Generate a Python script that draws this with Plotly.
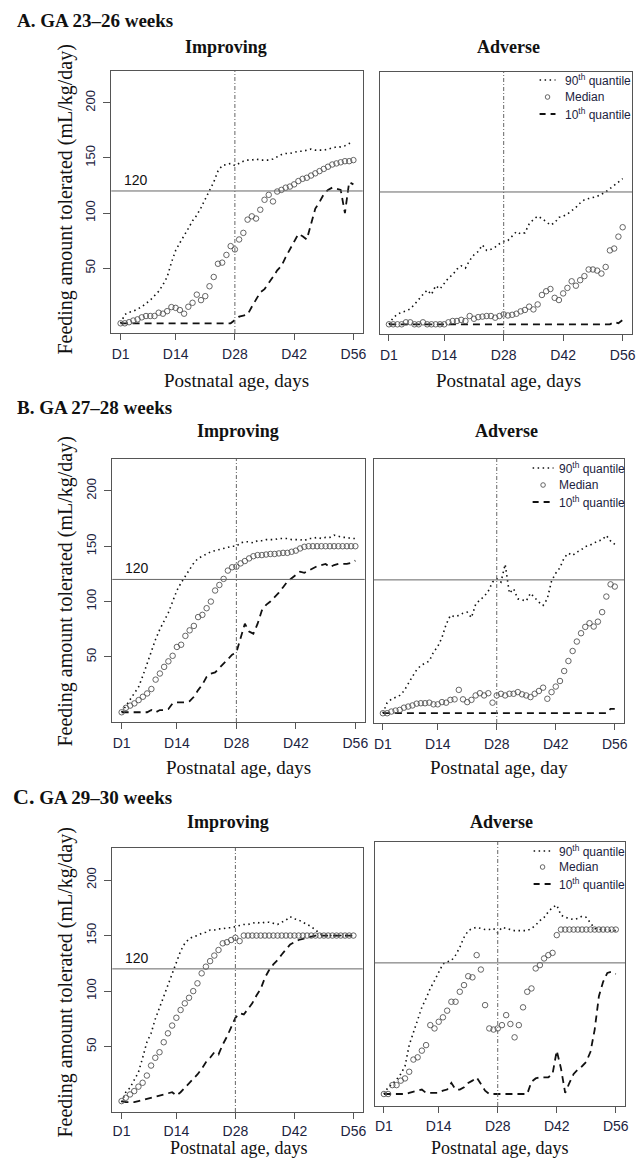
import plotly.graph_objects as go

# ---------------- data ----------------
days = list(range(1, 57))
TICK_DAYS = [1, 14, 28, 42, 56]
TICK_LABELS = ["D1", "D14", "D28", "D42", "D56"]
Y_TICKS = [50, 100, 150, 200]

# A. GA 23-26 weeks, Improving
a_imp_p90 = [0, 8, 10, 11, 13, 15, 18, 21, 25, 29, 35, 42, 55, 66, 73, 79, 86, 93, 98, 105,
             113, 120, 128, 138, 143, 144, 145, 143, 145, 147, 148, 148, 149, 148, 148, 148, 149, 151, 153, 154,
             154, 155, 156, 156, 157, 158, 157, 157, 157, 158, 159, 160, 160, 161, 163, 164]
a_imp_med = [0, 0, 1, 2.5, 3.6, 5.4, 6.6, 6.6, 6.6, 9.6, 8.7, 11, 14.7, 14, 12, 8.7, 15, 18.6, 26, 21,
             24.6, 33.6, 42, 54, 55, 62, 70, 67, 76, 82, 94, 97, 95, 103, 112, 116.5, 110.5, 119.5, 121, 123,
             124, 126, 129, 131, 132, 134, 136, 138, 140, 142, 144, 145, 146, 147, 147, 148]
a_imp_p10 = [0, 0, 0, 0, 0, 0, 0, 0, 0, 0, 0, 0, 0, 0, 0, 0, 0, 0, 0, 0,
             0, 0, 0, 0, 0, 0, 0, 3, 6, 7, 8, 15, 22, 28, 31, 36, 42, 48, 52, 60,
             67, 74, 81, 79, 76, 90, 104, 110, 117, 121, 123, 122, 121, 100, 128, 126]
# A. Adverse
a_adv_p90 = [0, 6, 9, 11, 12, 14, 18, 23, 27, 31, 27, 35, 32, 37, 42, 45, 50, 53, 51, 58,
             63, 66, 72, 67, 68, 70, 73, 75, 76, 80, 84, 82, 83, 91, 95, 98, 96, 93, 90, 92,
             97, 98, 100, 103, 106, 110, 113, 114, 115, 116, 118, 120, 123, 126, 129, 132]
a_adv_med = [0, 0, 0, 0, 1.8, 1.8, 0, 0, 1.8, 0, 0, 0, 0, 0, 1.8, 3, 3, 4, 3, 7.5,
             5, 6.5, 7, 7.5, 7.5, 6, 7.5, 9, 8, 8.6, 9.6, 11.7, 13, 16, 13.5, 18, 26.6, 30, 32, 24,
             22, 28, 33, 39, 35, 40, 43.7, 49.7, 49.7, 48.7, 46, 52, 67, 68.7, 79.5, 88]
a_adv_p10 = [0, 0, 0, 0, 0, 0, 0, 0, 0, 0, 0, 0, 0, 0, 0, 0, 0, 0, 0, 0,
             0, 0, 0, 0, 0, 0, 0, 0, 0, 0, 0, 0, 0, 0, 0, 0, 0, 0, 0, 0,
             0, 0, 0, 0, 0, 0, 0, 0, 0, 0, 0, 0, 0, 2, 1, 4]

# B. GA 27-28 weeks, Improving
b_imp_p90 = [0, 6, 12, 17, 23, 33, 44, 56, 66, 75, 83, 90, 100, 110, 117, 123, 130, 135, 139, 141,
             143, 145, 146, 147, 148, 149, 150, 150, 153, 154, 154, 153, 155, 155, 156, 156, 156, 157, 157, 157,
             156, 156, 156, 155, 157, 157, 158, 157, 158, 158, 160, 159, 158, 158, 157, 157]
b_imp_med = [0, 4, 6, 8, 11, 14, 17, 21, 29.5, 35, 41, 46, 51, 59, 61, 69, 74, 78, 86, 88,
             94, 100, 110, 115, 120.5, 128, 131, 131.5, 134.5, 136.6, 139, 141, 142, 142, 142.5, 143, 143, 143.5, 144, 144,
             145, 146, 148, 149.5, 150, 150, 150, 150, 150, 150, 150, 150, 150, 150, 150, 150]
b_imp_p10 = [0, 0, 0, 0, 0, 0, 0, 2, 0, 2, 2, 3, 8, 9, 9, 9, 10, 14, 20, 25,
             32, 35, 36, 40, 44, 48, 52, 54, 68, 80, 73, 71, 80, 92, 97, 100, 104, 108, 113, 118,
             121, 124, 127, 126, 128, 130, 132, 133, 134, 131, 133, 134, 134, 134, 135, 137]
# B. Adverse
b_adv_p90 = [0, 9.5, 12.5, 14, 16, 20, 27, 33, 39, 43, 45, 47, 55, 60, 68, 80, 88, 87, 88, 90,
             91, 86, 98, 102, 105, 110, 118, 121, 118, 134, 108, 112, 103, 102, 101, 108, 104, 100, 97, 103,
             119, 126, 131, 140, 144, 142, 145, 147, 150, 151, 153, 155, 156, 160, 155, 152]
b_adv_med = [0, 0, 1.5, 2.4, 3, 5, 6, 7, 8.6, 9, 9, 9.5, 8, 8, 10, 9.5, 12, 12.5, 21, 12.5,
             10, 12, 16, 18, 16, 18, 9.5, 16, 17.5, 16, 17.5, 17.5, 19, 17, 16, 14.5, 17.5, 20, 23, 13,
             19, 24, 29, 38, 47, 56, 64.5, 72, 77.7, 81, 78, 82.4, 91, 105, 116, 114]
b_adv_p10 = [0, 0, 0, 0, 0, 0, 0, 0, 0, 0, 0, 0, 0, 0, 0, 0, 0, 0, 0, 0,
             0, 0, 0, 0, 0, 0, 0, 0, 0, 0, 0, 0, 0, 0, 0, 0, 0, 0, 0, 0,
             0, 0, 0, 0, 0, 0, 0, 0, 0, 0, 0, 0, 0, 0, 4, 4]

# C. GA 29-30 weeks, Improving
c_imp_p90 = [0, 9, 13, 20, 27, 40, 54, 62, 75, 85, 95, 105, 115, 125, 136, 143, 147, 149, 150, 152,
             153, 155, 155, 156, 156, 157, 157, 158, 159, 160, 160, 161, 162, 161, 162, 162, 161, 160, 162, 164,
             167, 165, 164, 162, 160, 158, 155, 152, 150, 150, 150, 150, 150, 150, 150, 150]
c_imp_med = [1, 4, 7, 10, 14, 17.5, 24, 33, 40, 45, 54, 62, 69, 76, 83, 89, 94, 100, 107, 116,
             122, 127, 132, 137, 143, 144, 146, 148, 145, 150, 150, 150, 150, 150, 150, 150, 150, 150, 150, 150,
             150, 150, 150, 150, 150, 150, 150, 150, 150, 150, 150, 150, 150, 150, 150, 150]
c_imp_p10 = [1, 0, 0, 0, 1, 2, 3, 4, 5, 6, 7, 8, 9, 6, 9, 13, 17, 21, 25, 30,
             36, 40, 45, 43, 52, 59, 67, 76, 80, 79, 84, 89, 96, 102, 112, 119, 124, 128, 133, 138,
             142, 144, 146, 147, 148, 149, 150, 150, 150, 150, 150, 150, 150, 150, 150, 150]
# C. Adverse
c_adv_p90 = [2, 8, 11, 15, 20, 27, 46, 58, 70, 80, 88, 97, 104, 112, 119, 121, 122, 127, 134, 143,
             149, 151, 152, 151, 150, 150, 151, 147, 152, 151, 150, 149, 149, 149, 149, 151, 154, 158, 161, 166,
             170, 172, 163, 161, 160, 159, 160, 162, 161, 156, 151, 150, 150, 149, 149, 149]
c_adv_med = [2, 2, 10, 10, 14, 16, 22, 33, 35, 41, 46, 64, 61, 67, 71, 77, 85, 85, 94, 100,
             108, 107, 127, 114, 82, 61, 60, 61, 64, 73, 65, 53, 64, 80, 94, 97, 115, 118, 124, 127,
             129, 145, 150, 150, 150, 150, 150, 150, 150, 150, 150, 150, 150, 150, 150, 150]
c_adv_p10 = [2, 2, 2, 2, 2, 2, 3, 4, 5, 6, 3, 3, 3, 3, 5, 6, 12, 6, 6, 8,
             12, 14, 17, 11, 5, 2, 2, 2, 2, 2, 2, 2, 2, 2, 2, 13, 16, 17, 17, 17,
             20, 41, 25, 3, 12, 20, 24, 27, 31, 40, 60, 90, 103, 111, 112, 110]

# ---------------- layout helpers ----------------
W, H = 637, 1158
SERIF = "Liberation Serif"
SANS = "Liberation Sans"
TXT = "#1c2340"


def px(x):
    return x / W


def py(y):
    return 1 - y / H


panels = [
    dict(box=(112, 365, 71, 333), p90=a_imp_p90, med=a_imp_med, p10=a_imp_p10, imp=True, so=2),
    dict(box=(382, 636, 72, 334), p90=a_adv_p90, med=a_adv_med, p10=a_adv_p10, imp=False, so=2),
    dict(box=(113, 367, 459, 722), p90=b_imp_p90, med=b_imp_med, p10=b_imp_p10, imp=True, so=2),
    dict(box=(376, 628, 459, 723), p90=b_adv_p90, med=b_adv_med, p10=b_adv_p10, imp=False, so=2),
    dict(box=(113, 365, 848, 1112), p90=c_imp_p90, med=c_imp_med, p10=c_imp_p10, imp=True, so=0),
    dict(box=(377, 629, 842, 1106), p90=c_adv_p90, med=c_adv_med, p10=c_adv_p10, imp=False, so=1),
]

fig = go.Figure()
shapes = []
annotations = []
layout_axes = {}

for i, p in enumerate(panels, start=1):
    xs = "x" if i == 1 else f"x{i}"
    ys = "y" if i == 1 else f"y{i}"
    xname = "xaxis" if i == 1 else f"xaxis{i}"
    yname = "yaxis" if i == 1 else f"yaxis{i}"
    l, r, t, b = p["box"]

    fig.add_trace(go.Scatter(x=days, y=p["p90"], mode="lines", xaxis=xs, yaxis=ys,
                             line=dict(color="#111", width=1.6, dash="1.5px,3.5px"),
                             showlegend=False, hoverinfo="skip"))
    fig.add_trace(go.Scatter(x=days, y=p["p10"], mode="lines", xaxis=xs, yaxis=ys,
                             line=dict(color="#111", width=1.8, dash="7px,5px"),
                             showlegend=False, hoverinfo="skip"))
    fig.add_trace(go.Scatter(x=days, y=p["med"], mode="markers", xaxis=xs, yaxis=ys,
                             marker=dict(symbol="circle-open", size=5.5, color="#555",
                                         line=dict(width=0.9, color="#555")),
                             showlegend=False, hoverinfo="skip"))

    layout_axes[xname] = dict(
        domain=[px(l), px(r)], range=[-1.2, 58.2], anchor=ys,
        tickvals=TICK_DAYS, ticktext=TICK_LABELS, ticks="outside", ticklen=6,
        tickcolor="#555", showline=True, mirror=True, linecolor="#555", linewidth=1,
        showgrid=False, zeroline=False, ticklabelstandoff=p["so"],
        tickfont=dict(family=SANS, size=14, color=TXT))
    layout_axes[yname] = dict(
        domain=[py(b), py(t)], range=[-8.8, 228.8], anchor=xs,
        tickvals=Y_TICKS if p["imp"] else [], ticks="outside" if p["imp"] else "",
        ticklen=7, tickcolor="#555", tickangle=-90, showticklabels=p["imp"],
        showline=True, mirror=True, linecolor="#555", linewidth=1,
        showgrid=False, zeroline=False, ticklabelstandoff=3,
        tickfont=dict(family=SANS, size=13, color=TXT))

    # reference lines
    shapes.append(dict(type="line", xref=f"{xs} domain", yref=ys, x0=0, x1=1, y0=120, y1=120,
                       line=dict(color="#666", width=1)))
    shapes.append(dict(type="line", xref=xs, yref=f"{ys} domain", x0=28, x1=28, y0=0, y1=1,
                       line=dict(color="#666", width=1, dash="4px,2px,1px,2px")))
    if p["imp"]:
        annotations.append(dict(x=px(l + 11), y=120, xref="paper", yref=ys, text="120",
                                showarrow=False, xanchor="left", yanchor="bottom", yshift=1,
                                font=dict(family=SANS, size=14, color="#111")))

# legends (adverse panels)
legend_pos = [(543, 559, 567, 80, 97, 114), (536, 557, 561, 468, 485, 502), (537, 555, 561, 851, 867, 884)]
for (x0, x1, xt, y1, y2, y3) in legend_pos:
    shapes.append(dict(type="line", xref="paper", yref="paper", x0=px(x0), x1=px(x1), y0=py(y1), y1=py(y1),
                       line=dict(color="#111", width=1.5, dash="1.5px,3.5px")))
    shapes.append(dict(type="line", xref="paper", yref="paper", x0=px(x0), x1=px(x1), y0=py(y3), y1=py(y3),
                       line=dict(color="#111", width=1.8, dash="6px,5px")))
    cx = (x0 + x1) / 2
    shapes.append(dict(type="circle", xref="paper", yref="paper", x0=px(cx - 2.3), x1=px(cx + 2.3),
                       y0=py(y2 + 2.3), y1=py(y2 - 2.3), line=dict(color="#555", width=0.9)))
    for yy, txt in [(y1, "90<sup>th</sup> quantile"), (y2, "Median"), (y3, "10<sup>th</sup> quantile")]:
        annotations.append(dict(x=px(xt), y=py(yy), xref="paper", yref="paper", text=txt,
                                showarrow=False, xanchor="left", yanchor="middle",
                                font=dict(family=SANS, size=12, color=TXT)))


# titles
def ann(x, y, text, size, family=SERIF, angle=0, xanchor="center", color="#111"):
    annotations.append(dict(x=px(x), y=py(y), xref="paper", yref="paper", text=text, showarrow=False,
                            xanchor=xanchor, yanchor="middle", textangle=angle,
                            font=dict(family=family, size=size, color=color)))


ann(15, 21, "<b>A. GA 23–26 weeks</b>", 19, xanchor="left")
ann(15, 408, "<b>B. GA 27–28 weeks</b>", 19, xanchor="left")
ann(11, 796, "<b><span style='font-size:22px'>C.</span> GA 29–30 weeks</b>", 19, xanchor="left")

ann(227, 47, "<b>Improving</b>", 18)
ann(512, 47, "<b>Adverse</b>", 18)
ann(240, 431, "<b>Improving</b>", 18)
ann(510, 431, "<b>Adverse</b>", 18)
ann(229, 822, "<b>Improving</b>", 18)
ann(505, 822, "<b>Adverse</b>", 18)

for yc in (200, 592, 983):
    ann(65, yc, "Feeding amount tolerated (mL/kg/day)", 20, angle=-90)

ann(238, 380, "Postnatal age, days", 19)
ann(512, 380, "Postnatal age, days", 19)
ann(240, 767, "Postnatal age, days", 19)
ann(502, 767, "Postnatal age, day", 19)
ann(240, 1148, "Postnatal age, days", 18)
ann(503, 1148, "Postnatal age, days", 18)

fig.update_layout(
    width=W, height=H, autosize=False,
    margin=dict(l=0, r=0, t=0, b=0),
    paper_bgcolor="white", plot_bgcolor="white",
    showlegend=False, shapes=shapes, annotations=annotations,
    **layout_axes)

fig.write_html("out.html", post_script="document.body.style.margin='0';",
               config={"displayModeBar": False})
